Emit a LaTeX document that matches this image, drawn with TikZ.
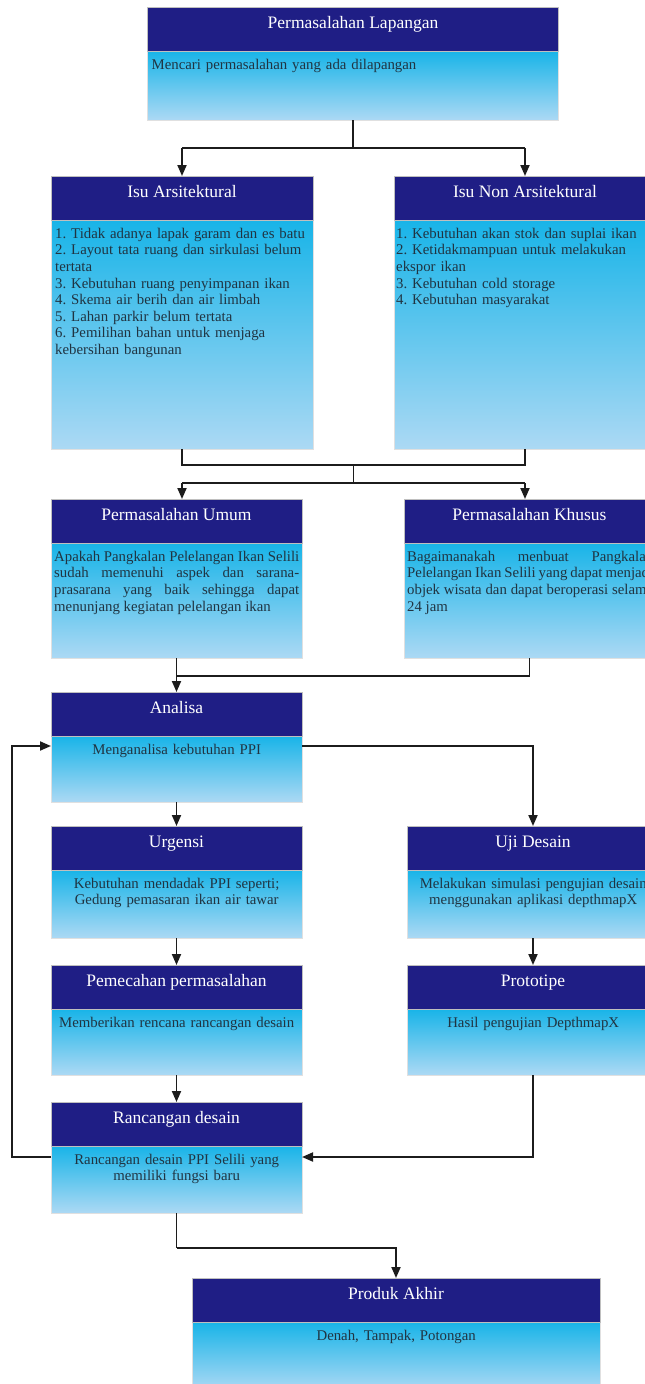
\documentclass[tikz,border=0pt]{standalone}
\usepackage{fontspec}
\setmainfont{Liberation Serif}
\usetikzlibrary{arrows.meta,calc}
\frenchspacing

\definecolor{hdr}{RGB}{31,30,133}
\definecolor{bodytop}{RGB}{24,180,232}
\definecolor{bodybot}{RGB}{172,217,244}
\definecolor{ink}{RGB}{32,52,66}
\definecolor{wirecol}{RGB}{28,28,28}

\tikzset{
  headbox/.style={fill=hdr, draw=black!25, line width=0.4pt, anchor=north,
    minimum height=44pt, inner sep=0pt, outer sep=0pt},
  bodybox/.style={top color=bodytop, bottom color=bodybot, draw=black!12,
    line width=0.4pt, anchor=north, inner sep=0pt, outer sep=0pt},
  headtext/.style={text=white, font=\fontsize{17.5}{20}\selectfont, anchor=base,
    inner sep=0pt},
  bodytext/.style={text=ink, font=\fontsize{14.8}{16.6}\selectfont\frenchspacing,
    anchor=north west, inner xsep=4pt, inner ysep=3pt},
  wire/.style={draw=wirecol, line width=1.9pt},
  arrow/.style={wire, -{Triangle[length=11pt,width=9pt]}},
}

% first-line strut for the body texts
\newcommand\fs{\rule{0pt}{15pt}}

% \stage{name}{centre x}{top y}{width}{total height}{title}
\newcommand\stage[6]{%
  \node[bodybox, minimum width=#4pt, minimum height=#5pt-44pt] (#1-b) at (#2,-#3-44) {};
  \node[headbox, minimum width=#4pt] (#1) at (#2,-#3) {};
  \node[headtext] (#1-t) at (#2,-#3-21) {#6};
}

\begin{document}
\begin{tikzpicture}[x=1pt,y=1pt]
\useasboundingbox (0,0) rectangle (645,-1384);
\clip (0,0) rectangle (645,-1384);
\fill[white] (0,0) rectangle (645,-1384);

% ---------- boxes ----------
\stage{lap}{353}{7}{411}{113}{Permasalahan Lapangan}
\node[bodytext, text width=403pt, align=left] (lap-x) at (lap-b.north west)
  {\fs Mencari permasalahan yang ada dilapangan};

\stage{isuA}{182}{176}{262}{273}{Isu Arsitektural}
\node[bodytext, text width=254pt, align=left] (isuA-x) at (isuA-b.north west)
  {\fs 1. Tidak adanya lapak garam dan es batu\\
   2. Layout tata ruang dan sirkulasi belum\\
   tertata\\
   3. Kebutuhan ruang penyimpanan ikan\\
   4. Skema air berih dan air limbah\\
   5. Lahan parkir belum tertata\\
   6. Pemilihan bahan untuk menjaga\\
   kebersihan bangunan};

\stage{isuN}{525}{176}{262}{273}{Isu Non Arsitektural}
\node[bodytext, text width=254pt, align=left, inner xsep=2pt] (isuN-x) at (isuN-b.north west)
  {\fs 1. Kebutuhan akan stok dan suplai ikan\\
   2. Ketidakmampuan untuk melakukan\\
   ekspor ikan\\
   3. Kebutuhan cold storage\\
   4. Kebutuhan masyarakat};

\stage{umum}{176.5}{499}{251}{159}{Permasalahan Umum}
\node[bodytext, text width=245pt, align=justify, inner xsep=3pt] (umum-x) at (umum-b.north west)
  {\fs Apakah Pangkalan Pelelangan Ikan Selili\linebreak
   sudah memenuhi aspek dan sarana-\linebreak
   prasarana yang baik sehingga dapat\linebreak
   menunjang kegiatan pelelangan ikan};

% this box runs past the right edge, so its text is cut there
\stage{khusus}{529.5}{499}{251}{159}{Permasalahan Khusus}
\node[bodytext, text width=246pt, align=justify, inner xsep=3pt] (khusus-x) at (khusus-b.north west)
  {\fs Bagaimanakah menbuat Pangkalan\linebreak
   Pelelangan Ikan Selili yang dapat menjadi\linebreak
   objek wisata dan dapat beroperasi selama\linebreak
   24 jam};

\stage{anl}{176.5}{692}{251}{110}{Analisa}
\node[bodytext, text width=243pt, align=center] (anl-x) at (anl-b.north west)
  {\fs Menganalisa kebutuhan PPI};

\stage{urg}{176.5}{826}{251}{112}{Urgensi}
\node[bodytext, text width=243pt, align=center] (urg-x) at (urg-b.north west)
  {\fs Kebutuhan mendadak PPI seperti;\\ Gedung pemasaran ikan air tawar};

\stage{uji}{533}{826}{251}{112}{Uji Desain}
\node[bodytext, text width=243pt, align=center] (uji-x) at (uji-b.north west)
  {\fs Melakukan simulasi pengujian desain\\ menggunakan aplikasi depthmapX};

\stage{pem}{176.5}{965}{251}{110}{Pemecahan permasalahan}
\node[bodytext, text width=243pt, align=center] (pem-x) at (pem-b.north west)
  {\fs Memberikan rencana rancangan desain};

\stage{pro}{533}{965}{251}{110}{Prototipe}
\node[bodytext, text width=243pt, align=center] (pro-x) at (pro-b.north west)
  {\fs Hasil pengujian DepthmapX};

\stage{ran}{176.5}{1102}{251}{111}{Rancangan desain}
\node[bodytext, text width=243pt, align=center] (ran-x) at (ran-b.north west)
  {\fs Rancangan desain PPI Selili yang\\ memiliki fungsi baru};

\stage{prod}{396}{1278}{408}{112}{Produk Akhir}
\node[bodytext, text width=400pt, align=center] (prod-x) at (prod-b.north west)
  {\fs Denah, Tampak, Potongan};

% ---------- connectors ----------
% field problems split into the two issue groups
\draw[wire] (lap-b.south) -- ++(0,-28) coordinate (j1);
\draw[wire] (isuA.north |- j1) -- (isuN.north |- j1);
\draw[arrow] (isuA.north |- j1) -- (isuA.north);
\draw[arrow] (isuN.north |- j1) -- (isuN.north);

% issues merge, then split into general / specific problems
\draw[wire] (isuA-b.south) -- ++(0,-16) coordinate (j2a)
  -- (isuN-b.south |- j2a) -- (isuN-b.south);
\draw[wire] ($(j2a)!0.5!(isuN-b.south |- j2a)$) coordinate (j2m) -- ++(0,-18) coordinate (j3);
\draw[wire] (isuA.north |- j3) -- (isuN.north |- j3);
\draw[arrow] (isuA.north |- j3) -- (isuA.north |- umum.north);
\draw[arrow] (isuN.north |- j3) -- (isuN.north |- khusus.north);

% both problems lead to the analysis
\draw[wire] (khusus-b.south) -- ++(0,-18) coordinate (j4) -- (umum-b.south |- j4);
\draw[wire] (umum-b.south) -- (umum-b.south |- j4);
\draw[arrow] (umum-b.south |- j4) -- (anl.north);

% analysis branches
\draw[arrow] ($(anl-b.north east)+(0,-10)$) -| (uji.north);
\draw[arrow] (anl-b.south) -- (urg.north);
\draw[arrow] (urg-b.south) -- (pem.north);
\draw[arrow] (pem-b.south) -- (ran.north);
\draw[arrow] (uji-b.south) -- (pro.north);
\draw[arrow] (pro-b.south) |- ($(ran-b.north east)+(0,-11)$);

% feedback loop from the design back to the analysis
\draw[arrow] ($(ran-b.north west)+(0,-11)$) -- ++(-39,0) coordinate (fb)
  |- ($(anl-b.north west)+(0,-10)$);

% final product
\draw[wire] (ran-b.south) -- ++(0,-35) coordinate (j5);
\draw[arrow] (j5) -| (prod.north);
\end{tikzpicture}
\end{document}
